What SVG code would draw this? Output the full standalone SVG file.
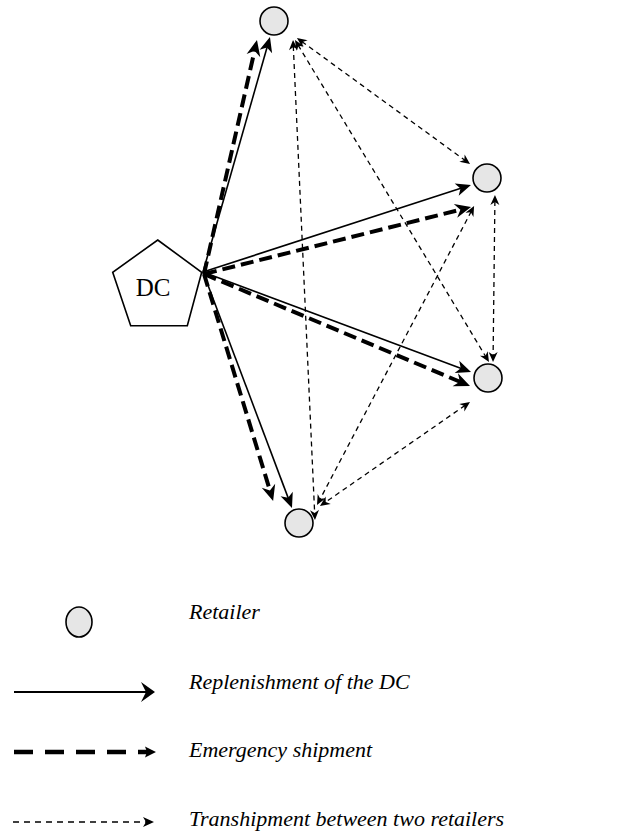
<svg xmlns="http://www.w3.org/2000/svg" width="627" height="835" viewBox="0 0 627 835">
  <style>
    .node { fill: #e6e6e6; stroke: #000; stroke-width: 1.6; }
    .dc { fill: #fff; stroke: #000; stroke-width: 1.6; }
    .solid { stroke: #000; stroke-width: 1.6; fill: none; marker-end: url(#ahSolid); }
    .thick { stroke: #000; stroke-width: 4; stroke-dasharray: 13 6; fill: none; marker-end: url(#ahThick); }
    .thin { stroke: #000; stroke-width: 1.3; stroke-dasharray: 5 4; fill: none; marker-start: url(#ahThin); marker-end: url(#ahThin); }
    .lbl { font-family: "Liberation Serif", "Times New Roman", serif; font-size: 22px; font-style: italic; fill: #000; }
    .dctext { font-family: "Liberation Serif", "Times New Roman", serif; font-size: 25px; fill: #000; }
  </style>
  <defs>
    <marker id="ahSolid" markerUnits="userSpaceOnUse" viewBox="-17 -8 18 16" markerWidth="18" markerHeight="16" refX="-9" refY="0" orient="auto">
      <path d="M0,0 L-15,-6.5 L-11,0 L-15,6.5 Z" fill="#000"/>
    </marker>
    <marker id="ahThick" markerUnits="userSpaceOnUse" viewBox="-17 -8 18 16" markerWidth="18" markerHeight="16" refX="-9" refY="0" orient="auto">
      <path d="M0,0 L-16,-7 L-11,0 L-16,7 Z" fill="#000"/>
    </marker>
    <marker id="ahThin" markerUnits="userSpaceOnUse" viewBox="-12 -6 13 12" markerWidth="13" markerHeight="12" refX="-6" refY="0" orient="auto-start-reverse">
      <path d="M0,0 L-10,-4.5 L-7,0 L-10,4.5 Z" fill="#000"/>
    </marker>
    <marker id="legSolid" markerUnits="userSpaceOnUse" viewBox="-16 -11 17 22" markerWidth="17" markerHeight="22" refX="-8" refY="0" orient="auto">
      <path d="M0,0 L-14,-10 L-9,0 L-14,10 Z" fill="#000"/>
    </marker>
    <marker id="legThick" markerUnits="userSpaceOnUse" viewBox="-13 -7 14 14" markerWidth="14" markerHeight="14" refX="-6" refY="0" orient="auto">
      <path d="M0,0 L-11,-5.5 L-9,0 L-11,5.5 Z" fill="#000"/>
    </marker>
    <marker id="legThin" markerUnits="userSpaceOnUse" viewBox="-13 -6 14 12" markerWidth="14" markerHeight="12" refX="-6" refY="0" orient="auto">
      <path d="M0,0 L-11,-5 L-8,0 L-11,5 Z" fill="#000"/>
    </marker>
  </defs>

  <g id="dc">
    <polygon class="dc" points="157.7,240 201.7,272.3 187.3,325.7 130.7,325.7 112.7,272.3"/>
    <text class="dctext" x="153" y="296" text-anchor="middle">DC</text>
  </g>
  <g id="retailer-top"><circle class="node" cx="274" cy="21" r="14"/></g>
  <g id="retailer-right-top"><circle class="node" cx="487" cy="178" r="14"/></g>
  <g id="retailer-right-bottom"><circle class="node" cx="488" cy="378" r="14"/></g>
  <g id="retailer-bottom"><circle class="node" cx="299" cy="523" r="14"/></g>

  <g id="connectors">
    <!-- replenishment (solid) -->
    <line class="solid" x1="203" y1="272" x2="267.5" y2="45.7"/>
    <line class="solid" x1="203" y1="272" x2="462.4" y2="187.8"/>
    <line class="solid" x1="203" y1="272" x2="462.6" y2="368.9"/>
    <line class="solid" x1="203" y1="272" x2="288.8" y2="499.6"/>
    <!-- emergency (thick dashed) -->
    <line class="thick" x1="204" y1="274" x2="255" y2="48.8"/>
    <line class="thick" x1="204" y1="274" x2="462.3" y2="209.2"/>
    <line class="thick" x1="204" y1="274" x2="461.7" y2="382.5"/>
    <line class="thick" x1="204" y1="274" x2="270.5" y2="492.4"/>
    <!-- transhipment (thin dashed, both ways) -->
    <line class="thin" x1="301.8" y1="41.5" x2="465.2" y2="160.5"/>
    <line class="thin" x1="298.1" y1="45.1" x2="485.9" y2="356.9"/>
    <line class="thin" x1="293.3" y1="46" x2="314.7" y2="514"/>
    <line class="thin" x1="494.9" y1="201" x2="493.1" y2="356"/>
    <line class="thin" x1="471.3" y1="211.3" x2="319.8" y2="499.7"/>
    <line class="thin" x1="465.1" y1="405.4" x2="324.9" y2="502.6"/>
  </g>

  <g id="legend">
    <ellipse class="node" cx="79" cy="622" rx="13" ry="15"/>
    <text class="lbl" x="189" y="619">Retailer</text>
    <line x1="14" y1="692" x2="147" y2="692" stroke="#000" stroke-width="2" marker-end="url(#legSolid)"/>
    <text class="lbl" x="189" y="689">Replenishment of the DC</text>
    <line x1="14" y1="752" x2="150" y2="752" stroke="#000" stroke-width="4.5" stroke-dasharray="19 12" marker-end="url(#legThick)"/>
    <text class="lbl" x="189" y="757">Emergency shipment</text>
    <line x1="13" y1="822" x2="148" y2="822" stroke="#000" stroke-width="1.6" stroke-dasharray="6 5" marker-end="url(#legThin)"/>
    <text class="lbl" x="189" y="826">Transhipment between two retailers</text>
  </g>
</svg>
